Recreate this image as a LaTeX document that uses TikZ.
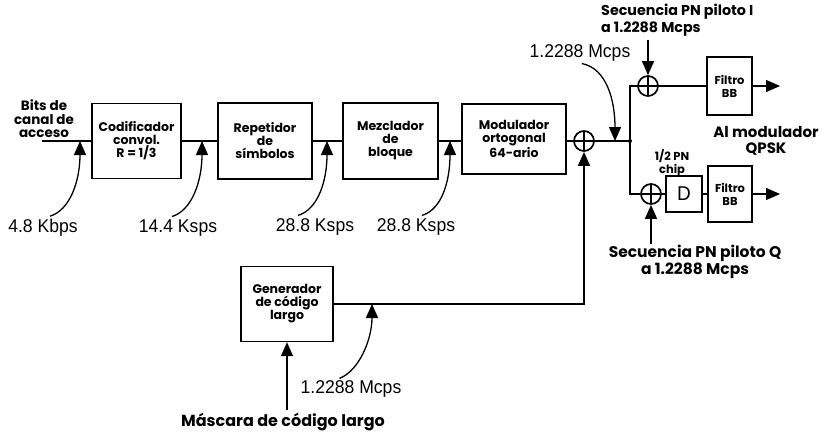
\documentclass[tikz,border=0pt]{standalone}
\usepackage{fontspec}
\setmainfont{Poppins}
\newfontfamily\ratefont{Liberation Sans}[FakeStretch=0.95]
\usetikzlibrary{arrows.meta,positioning}

\begin{document}
\begin{tikzpicture}[x=1pt,y=-1pt,
     font=\bfseries\fontsize{12.5}{13}\selectfont,
     blk/.style={draw,line width=1.4pt,align=center,inner sep=2pt},
     xor/.style={draw,circle,line width=1.7pt,minimum size=20pt,inner sep=0pt,
        path picture={\draw[line width=1.7pt] (path picture bounding box.north)--(path picture bounding box.south)
          (path picture bounding box.west)--(path picture bounding box.east);}},
     sig/.style={line width=1.2pt},
     ar/.style={-{Triangle[length=14pt,width=12pt]},line width=1.3pt},
     rt/.style={font=\ratefont\fontsize{18.5}{20}\selectfont,inner sep=1pt},
     lbl/.style={align=center,inner sep=1pt}]
  \useasboundingbox (0,0) rectangle (822,436);
  % cadena principal
  \node[lbl,font=\bfseries\fontsize{13.5}{13.5}\selectfont] (bits) at (44,119) {Bits de\\canal de\\acceso};
  \coordinate (in) at (42,141);
  \node[blk,minimum width=89pt,minimum height=75pt] (cod) at (136.5,141) {Codificador\\convol.\\R = 1/3};
  \node[blk,minimum width=94pt,minimum height=76pt] (rep) at (265,141) {Repetidor\\de\\símbolos};
  \node[blk,minimum width=95pt,minimum height=76pt] (mez) at (390.5,141) {Mezclador\\de\\bloque};
  \node[blk,minimum width=104pt,minimum height=70pt] (mod) at (514,139) {Modulador\\ortogonal\\64-ario};
  \node[xor] (xor1) at (584,141) {};
  \coordinate (br) at (630,141);
  \draw[sig] (in) -- (cod);
  \draw[sig] (cod) -- (rep);
  \draw[sig] (rep) -- (mez);
  \draw[sig] (mez.east) -- (mod.west |- mez.east);
  \draw[sig] (mod.east |- xor1) -- (xor1);
  \draw[sig] (xor1) -- (br);
  \fill (br) circle (2pt);
  % tasas
  \coordinate (t1) at (80,141);
  \coordinate (t2) at (202,141);
  \coordinate (t3) at (327,141);
  \coordinate (t4) at (450,141);
  \coordinate (t5) at (615,141);
  \node[rt] (k1) at (43,228) {4.8 Kbps};
  \node[rt] (k2) at (178,228) {14.4 Ksps};
  \node[rt] (k3) at (315,227) {28.8 Ksps};
  \node[rt] (k4) at (416,227) {28.8 Ksps};
  \node[rt] (k5) at (580,53) {1.2288 Mcps};
  \draw[ar] (k1.north)++(7,-2) .. controls +(20,-6) and +(0,40) .. (t1);
  \draw[ar] (k2.north)++(-6,-2) .. controls +(20,-6) and +(0,40) .. (t2);
  \draw[ar] (k3.north)++(-17,-2) .. controls +(20,-6) and +(0,40) .. (t3);
  \draw[ar] (k4.north)++(6,-2) .. controls +(20,-6) and +(0,40) .. (t4);
  \draw[ar] (k5.south)++(2,1) .. controls +(25,5) and +(0,-40) .. (t5);
  % rama I
  \node[xor] (xorI) at (648,86) {};
  \node[blk,minimum width=45pt,minimum height=58pt,font=\bfseries\fontsize{11.5}{13}\selectfont] (filI) at (729.5,86) {Filtro\\BB};
  \coordinate (outI) at (780,86);
  \draw[sig] (br) |- (xorI);
  \draw[sig] (xorI) -- (filI);
  \draw[ar] (filI) -- (outI);
  \node[anchor=north west,align=left,inner sep=0pt,font=\bfseries\fontsize{14.3}{17}\selectfont] (pnI) at (601,4)
    {Secuencia PN piloto I\\a 1.2288 Mcps};
  \coordinate (pnIin) at (648,40);
  \draw[ar] (pnIin) -- (xorI);
  % rama Q
  \node[xor] (xorQ) at (651,194) {};
  \node[blk,minimum width=36pt,minimum height=36pt,font=\ratefont\fontsize{20}{20}\selectfont] (dly) at (684,194) {D};
  \node[blk,minimum width=44pt,minimum height=56pt,font=\bfseries\fontsize{11.5}{13}\selectfont] (filQ) at (730,194) {Filtro\\BB};
  \coordinate (outQ) at (780,194);
  \draw[sig] (br) |- (xorQ);
  \draw[sig] (xorQ) -- (dly);
  \draw[sig] (dly) -- (filQ);
  \draw[ar] (filQ) -- (outQ);
  \node[lbl,font=\bfseries\fontsize{11.5}{12.5}\selectfont] (chip) at (672,163) {1/2 PN\\chip};
  \node[lbl,font=\bfseries\fontsize{15}{16}\selectfont] (qpsk) at (766,141) {Al modulador\\QPSK};
  \node[lbl,font=\bfseries\fontsize{15.5}{14.5}\selectfont] (pnQ) at (695,262) {Secuencia PN piloto Q\\a 1.2288 Mcps};
  \coordinate (pnQin) at (651,244);
  \draw[ar] (pnQin) -- (xorQ);
  % codigo largo
  \node[blk,minimum width=92pt,minimum height=75pt] (gen) at (287,304) {Generador\\de código\\largo};
  \draw[ar] (gen) -| (xor1);
  \coordinate (t6) at (372,304);
  \node[rt] (k6) at (351,389) {1.2288 Mcps};
  \draw[ar] (k6.north west)++(40,-1) .. controls +(20,-8) and +(0,35) .. (t6);
  \node[font=\bfseries\fontsize{16}{16}\selectfont] (mask) at (283,422) {Máscara de código largo};
  \draw[ar] (mask.north -| gen) -- (gen);
\end{tikzpicture}
\end{document}
